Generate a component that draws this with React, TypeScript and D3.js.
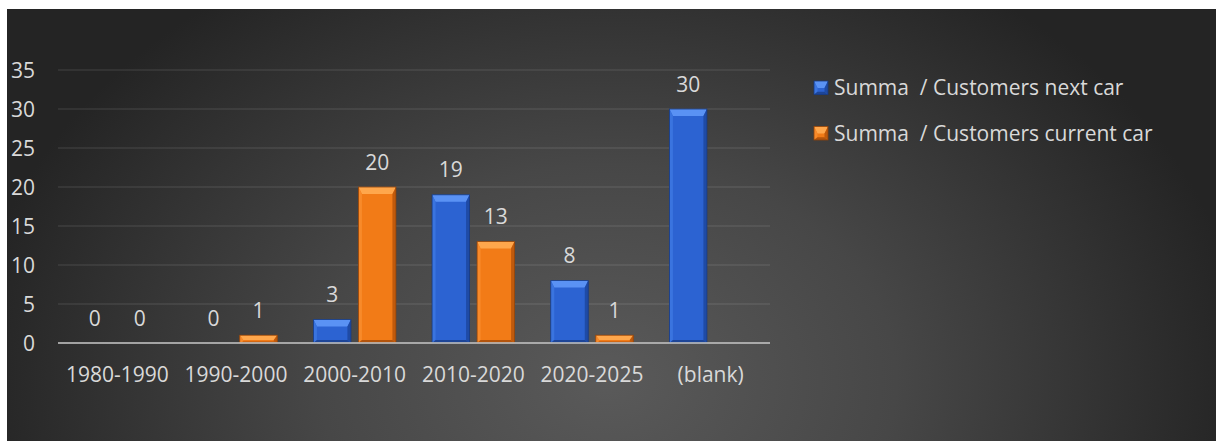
import React from "react";
import * as d3 from "d3";

const categories = ["1980-1990", "1990-2000", "2000-2010", "2010-2020", "2020-2025", "(blank)"];
const nextCar: (number | null)[] = [0, 0, 3, 19, 8, 30];
const currentCar: (number | null)[] = [0, 1, 20, 13, 1, null];
const seriesNames = ["Summa  / Customers next car", "Summa  / Customers current car"];
const yTicks = [0, 5, 10, 15, 20, 25, 30, 35];

const W = 1216;
const H = 441;
const FONT = "'Open Sans', sans-serif";
const TEXT = "#d9d9d9";
const FS = 21;

const palettes = [
  { base: "#2c63d2", top: "#5a92f4", left: "#3a74df", right: "#1f4ba6", bottom: "#1d4597", stroke: "#173a80" },
  { base: "#f27b17", top: "#ffa74c", left: "#f88a2a", right: "#c05a0c", bottom: "#b3540c", stroke: "#8f430a" },
];

function Bar({ x, y, w, h, p }: { x: number; y: number; w: number; h: number; p: typeof palettes[0] }) {
  const bt = Math.min(7, h * 0.6);
  const bs = Math.min(3.5, w / 4);
  const bb = Math.min(3, h * 0.2);
  const pts = (arr: number[][]) => arr.map((a) => a.join(",")).join(" ");
  return (
    <g>
      <rect x={x} y={y} width={w} height={h} fill={p.base} />
      <polygon points={pts([[x, y], [x + w, y], [x + w - bs, y + bt], [x + bs, y + bt]])} fill={p.top} />
      <polygon points={pts([[x, y], [x + bs, y + bt], [x + bs, y + h - bb], [x, y + h]])} fill={p.left} />
      <polygon points={pts([[x + w, y], [x + w - bs, y + bt], [x + w - bs, y + h - bb], [x + w, y + h]])} fill={p.right} />
      <polygon points={pts([[x, y + h], [x + bs, y + h - bb], [x + w - bs, y + h - bb], [x + w, y + h]])} fill={p.bottom} />
      <rect x={x} y={y} width={w} height={h} fill="none" stroke={p.stroke} strokeWidth={0.8} />
    </g>
  );
}

export default function App() {
  const x0 = d3.scaleBand<string>().domain(categories).range([58, 770]).paddingInner(0).paddingOuter(0);
  const x1 = d3.scaleBand<string>().domain(["0", "1"]).range([0, 82.5]).paddingInner(7.5 / 45).paddingOuter(0);
  const y = d3.scaleLinear().domain([0, 35]).range([343, 70]);
  const series = [nextCar, currentCar];
  const bw = x1.bandwidth();
  const ts = { whiteSpace: "pre" as const };

  return (
    <svg width={W} height={H} style={{ position: "absolute", left: 0, top: 0 }} fontFamily={FONT}>
      <defs>
        <radialGradient id="bg" gradientUnits="userSpaceOnUse" cx={608} cy={380} r={640} gradientTransform="translate(608 380) scale(1 0.75) translate(-608 -380)">
          <stop offset="0" stopColor="#5a5a5a" />
          <stop offset="0.45" stopColor="#474747" />
          <stop offset="1" stopColor="#242424" />
        </radialGradient>
      </defs>
      <rect x={0} y={0} width={W} height={H} fill="#ffffff" />
      <rect x={7} y={9} width={W - 7} height={H - 9} fill="url(#bg)" />

      {yTicks.map((t) =>
        t === 0 ? null : (
          <line key={"g" + t} x1={58} x2={770} y1={y(t)} y2={y(t)} stroke="#ffffff" strokeOpacity={0.14} strokeWidth={1} />
        )
      )}
      {yTicks.map((t) => (
        <text key={"yt" + t} x={35} y={y(t) + 7.5} textAnchor="end" fill={TEXT} fontSize={FS}>
          {t}
        </text>
      ))}

      {categories.map((c, i) =>
        series.map((s, k) => {
          const v = s[i];
          if (v === null) return null;
          const bx = (x0(c) as number) + x0.bandwidth() / 2 - 41.25 + (x1(String(k)) as number);
          const top = y(v);
          return (
            <g key={c + k}>
              {v > 0 && <Bar x={bx} y={top} w={bw} h={y(0) - top} p={palettes[k]} />}
            </g>
          );
        })
      )}

      <line x1={58} x2={770} y1={y(0)} y2={y(0)} stroke="#bfbfbf" strokeOpacity={0.8} strokeWidth={2.2} />

      {categories.map((c, i) =>
        series.map((s, k) => {
          const v = s[i];
          if (v === null) return null;
          const cx = (x0(c) as number) + x0.bandwidth() / 2 - 41.25 + (x1(String(k)) as number) + bw / 2;
          return (
            <text key={"l" + c + k} x={cx} y={y(v) - 17.5} textAnchor="middle" fill={TEXT} fontSize={FS}>
              {v}
            </text>
          );
        })
      )}

      {categories.map((c) => (
        <text key={"x" + c} x={(x0(c) as number) + x0.bandwidth() / 2} y={381.5} textAnchor="middle" fill={TEXT} fontSize={FS}>
          {c}
        </text>
      ))}

      {seriesNames.map((n, k) => (
        <g key={"leg" + k}>
          <Bar x={814} y={81 + k * 45.5} w={14} h={13.5} p={palettes[k]} />
          <text x={834} y={94.5 + k * 46} fill={TEXT} fontSize={FS} style={ts} xmlSpace="preserve">
            {n}
          </text>
        </g>
      ))}
    </svg>
  );
}
